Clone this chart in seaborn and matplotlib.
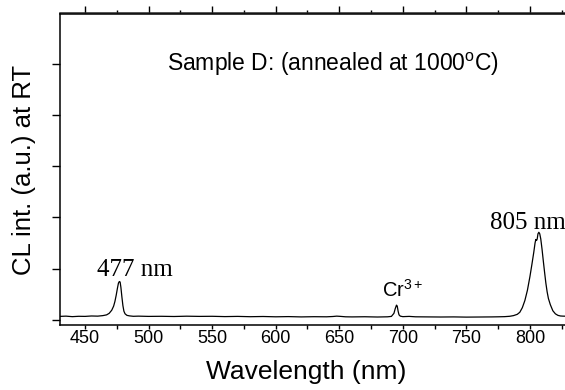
import matplotlib
matplotlib.use("Agg")
import matplotlib.pyplot as plt
import seaborn as sns
import pandas as pd
from matplotlib.ticker import MultipleLocator, NullFormatter

# ---- data ----
wavelength_nm = [430, 435, 440, 445, 450, 455, 460, 464, 467, 469, 471, 472.5, 473.5,
                 474.5, 475.5, 476.3, 477, 477.6, 478.2, 479, 479.8, 480.6, 481.5, 483,
                 485, 488, 492, 500, 510, 520, 530, 540, 550, 560, 570, 580, 590, 600,
                 610, 620, 630, 640, 645, 648, 651, 655, 660, 670, 680, 688, 691, 693,
                 694, 695, 695.6, 696.3, 697, 698, 700, 705, 710, 720, 730, 740, 750,
                 760, 770, 775, 780, 784, 787, 790, 792, 794, 796, 798, 800, 801.5, 803,
                 804, 804.6, 805.2, 805.7, 806.3, 807, 807.7, 808.5, 809.5, 810.5, 811.5,
                 812.5, 813.5, 814.5, 816, 818, 820, 822, 824, 826, 828, 830]
intensity = [0.070, 0.075, 0.065, 0.072, 0.070, 0.078, 0.075, 0.085, 0.10, 0.13, 0.19, 0.27, 0.36,
             0.48, 0.62, 0.72, 0.75, 0.74, 0.64, 0.45, 0.28, 0.17, 0.12, 0.09,
             0.080, 0.072, 0.075, 0.070, 0.072, 0.068, 0.074, 0.070, 0.072, 0.066, 0.070, 0.064, 0.068, 0.062,
             0.066, 0.060, 0.064, 0.062, 0.068, 0.075, 0.070, 0.062, 0.060, 0.063, 0.058, 0.062, 0.070, 0.13,
             0.22, 0.29, 0.27, 0.17, 0.10, 0.075, 0.065, 0.070, 0.062, 0.060, 0.058, 0.060, 0.056,
             0.058, 0.060, 0.062, 0.065, 0.072, 0.085, 0.11, 0.15, 0.24, 0.38, 0.58, 0.85, 1.08, 1.32,
             1.50, 1.57, 1.55, 1.58, 1.68, 1.71, 1.68, 1.58, 1.38, 1.15, 0.93,
             0.72, 0.55, 0.42, 0.30, 0.18, 0.12, 0.09, 0.078, 0.075, 0.074, 0.073]

x_ticks = [450, 500, 550, 600, 650, 700, 750, 800]
y_ticks = [0, 1, 2, 3, 4, 5]
peak_labels = ["477 nm", "805 nm"]
peak_label_pos = [(489, 0.86), (768.5, 1.77)]
title_text = "Sample D: (annealed at 1000$^{\\mathrm{o}}$C)"
cr_text = "Cr$^{\\mathrm{3+}}$"

df = pd.DataFrame({"Wavelength (nm)": wavelength_nm, "CL": intensity})

sns.set_style("ticks")
plt.rcParams["font.family"] = ["Liberation Sans", "DejaVu Sans"]
plt.rcParams["mathtext.fontset"] = "custom"
plt.rcParams["mathtext.rm"] = "Liberation Sans"
plt.rcParams["mathtext.it"] = "Liberation Sans:italic"
plt.rcParams["mathtext.bf"] = "Liberation Sans:bold"
plt.rcParams["text.color"] = "black"
plt.rcParams["axes.labelcolor"] = "black"
plt.rcParams["xtick.color"] = "black"
plt.rcParams["ytick.color"] = "black"

fig = plt.figure(figsize=(5.65, 3.9), dpi=100)
ax = fig.add_axes([59.6 / 565, 65.5 / 390, 508.5 / 565, 311 / 390])

sns.lineplot(data=df, x="Wavelength (nm)", y="CL", ax=ax, color="black",
             linewidth=0.9, estimator=None, sort=False)

ax.set_xlim(430, 830)
ax.set_ylim(-0.088, 5.975)

for s in ax.spines.values():
    s.set_linewidth(1.1)
    s.set_color("black")

ax.set_xticks(x_ticks)
ax.xaxis.set_minor_locator(MultipleLocator(25))
ax.set_yticks(y_ticks)
ax.set_yticklabels([])
ax.tick_params(axis="x", which="both", direction="out", length=2.6, width=1.0,
               pad=1.5, labelsize=13, colors="black")
ax.tick_params(axis="y", which="major", direction="out", length=5.8, width=1.0)
ax.tick_params(axis="x", which="major", top=False)

sec = ax.secondary_xaxis("top")
sec.set_xticks(x_ticks)
sec.xaxis.set_minor_locator(MultipleLocator(25))
sec.xaxis.set_major_formatter(NullFormatter())
sec.tick_params(which="major", direction="out", length=5.0, width=1.0)
sec.tick_params(which="minor", direction="out", length=2.5, width=1.0)
sec.spines["top"].set_linewidth(1.1)

ax.set_xlabel("Wavelength (nm)", fontsize=19, color="black")
ax.set_ylabel("CL int. (a.u.) at RT", fontsize=18.5, color="black")
ax.xaxis.set_label_coords(0.4846, -0.115)
ax.yaxis.set_label_coords(-0.046, 0.497)

for lab, (px, py) in zip(peak_labels, peak_label_pos):
    ax.text(px, py, lab, family=["Liberation Serif", "DejaVu Serif"], fontsize=18,
            ha="center" if lab.startswith("477") else "left", va="baseline",
            clip_on=False, color="black")

ax.text(683.4, 0.45, cr_text, fontsize=14.5, ha="left", va="baseline", color="black")
ax.text(645, 4.85, title_text, fontsize=16.5, ha="center", va="baseline", color="black")

fig.savefig("out.png", dpi=100)
